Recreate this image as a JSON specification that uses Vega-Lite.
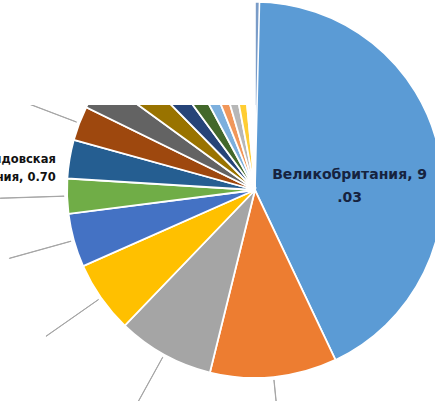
{
  "$schema": "https://vega.github.io/schema/vega-lite/v6.json",
  "width": 435,
  "height": 296,
  "autosize": "none",
  "padding": {"left": 0, "top": 105, "right": 0, "bottom": 0},
  "background": "white",
  "config": {"view": {"stroke": null}},
  "data": {
    "values": [
      {"idx": 1, "name": "Великобритания", "value": 9.03},
      {"idx": 2, "name": "Германия", "value": 2.29},
      {"idx": 3, "name": "Франция", "value": 1.75},
      {"idx": 4, "name": "Италия", "value": 1.30},
      {"idx": 5, "name": "Испания", "value": 0.97},
      {"idx": 6, "name": "Нидерланды", "value": 0.63},
      {"idx": 7, "name": "Молдовская компания", "value": 0.70},
      {"idx": 8, "name": "Польша", "value": 0.62},
      {"idx": 9, "name": "Бельгия", "value": 0.58},
      {"idx": 10, "name": "Швеция", "value": 0.55},
      {"idx": 11, "name": "Австрия", "value": 0.49},
      {"idx": 12, "name": "Дания", "value": 0.46},
      {"idx": 13, "name": "Ирландия", "value": 0.38},
      {"idx": 14, "name": "Финляндия", "value": 0.32},
      {"idx": 15, "name": "Португалия", "value": 0.33},
      {"idx": 16, "name": "Чехия", "value": 0.31},
      {"idx": 17, "name": "Греция", "value": 0.062},
      {"idx": 18, "name": "Венгрия", "value": 0.062},
      {"idx": 19, "name": "Норвегия", "value": 0.062},
      {"idx": 20, "name": "Швейцария", "value": 0.062},
      {"idx": 21, "name": "Словакия", "value": 0.062},
      {"idx": 22, "name": "Прочие", "value": 0.08}
    ]
  },
  "transform": [
    {"stack": "value", "groupby": [], "sort": [{"field": "idx", "order": "ascending"}], "as": ["v0", "v1"]},
    {"calculate": "(datum.v0 + datum.v1) / 2", "as": "mid"},
    {"calculate": "datum.mid + 0.004", "as": "mid2"}
  ],
  "layer": [
    {
      "transform": [{"filter": {"field": "idx", "oneOf": [1, 22]}}],
      "mark": {"type": "arc", "x": 255, "y": 85, "outerRadius": 188, "stroke": "white", "strokeWidth": 1.6},
      "encoding": {
        "theta": {"field": "v0", "type": "quantitative", "stack": null},
        "theta2": {"field": "v1"},
        "color": {
          "field": "name", "type": "nominal", "legend": null, "sort": null,
          "scale": {
            "domain": ["Великобритания", "Германия", "Франция", "Италия", "Испания", "Нидерланды", "Молдовская компания", "Польша", "Бельгия", "Швеция", "Австрия", "Дания", "Ирландия", "Финляндия", "Португалия", "Чехия", "Греция", "Венгрия", "Норвегия", "Швейцария", "Словакия", "Прочие"],
            "range": ["#5B9BD5", "#ED7D31", "#A5A5A5", "#FFC000", "#4472C4", "#70AD47", "#255E91", "#9E480E", "#636363", "#997300", "#264478", "#43682B", "#7CAFDD", "#F1975A", "#B7B7B7", "#FFCD33", "#698ED0", "#8CC168", "#327DC2", "#D26012", "#848484", "#7A9CC8"]
          }
        }
      }
    },
    {
      "transform": [{"filter": "datum.idx >= 2 && datum.idx <= 21"}],
      "mark": {"type": "arc", "x": 255, "y": 85, "outerRadius": 188, "stroke": "white", "strokeWidth": 1.8, "clip": true},
      "encoding": {
        "theta": {"field": "v0", "type": "quantitative", "stack": null},
        "theta2": {"field": "v1"},
        "color": {"field": "name", "type": "nominal", "legend": null, "sort": null}
      }
    },
    {
      "transform": [{"filter": {"field": "idx", "oneOf": [2, 3, 4, 5, 6, 8]}}],
      "mark": {"type": "arc", "x": 255, "y": 85, "innerRadius": 191, "outerRadius": 255, "filled": false, "color": "#a6a6a6", "strokeWidth": 1, "clip": true},
      "encoding": {
        "theta": {"field": "mid", "type": "quantitative", "stack": null},
        "theta2": {"field": "mid2"}
      }
    },
    {
      "transform": [{"filter": "datum.idx == 1"}],
      "mark": {"type": "text", "x": 255, "y": 85, "radius": 97, "dy": 6, "font": "DejaVu Sans", "fontSize": 14, "fontWeight": "bold", "color": "#16233f", "align": "center", "baseline": "middle", "lineHeight": 23},
      "encoding": {
        "theta": {"field": "mid", "type": "quantitative", "stack": null},
        "text": {"value": ["Великобритания, 9", ".03"]}
      }
    },
    {
      "transform": [{"filter": "datum.idx == 7"}],
      "mark": {"type": "text", "x": 255, "y": 85, "radius": 202, "dy": 3, "font": "DejaVu Sans", "fontSize": 11.5, "fontWeight": "bold", "color": "#111111", "align": "right", "baseline": "middle", "lineHeight": 18},
      "encoding": {
        "theta": {"field": "mid", "type": "quantitative", "stack": null},
        "text": {"value": ["Молдовская", "компания, 0.70"]}
      }
    }
  ]
}
